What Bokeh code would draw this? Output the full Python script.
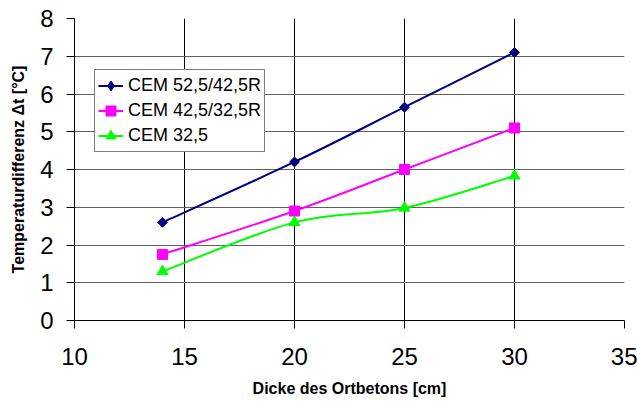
from bokeh.plotting import figure
from bokeh.models import Range1d, FixedTicker, Legend, LegendItem, ColumnDataSource
from bokeh.embed import file_html
from bokeh.resources import INLINE
import math

# ---- data ----
thickness = [14, 20, 25, 30]
cem_52 = [2.6, 4.2, 5.65, 7.1]
cem_42 = [1.75, 2.9, 4.0, 5.1]
cem_32 = [1.3, 2.6, 2.98, 3.83]
series_names = ["CEM 52,5/42,5R", "CEM 42,5/32,5R", "CEM 32,5"]
x_ticks = [10, 15, 20, 25, 30, 35]
y_ticks = [0, 1, 2, 3, 4, 5, 6, 7, 8]
x_title = "Dicke des Ortbetons [cm]"
y_title = "Temperaturdifferenz Δt [°C]"

colors = ["#000080", "#FF00FF", "#00FF00"]
FONT = "Liberation Sans"
NAN = float("nan")

p = figure(width=637, height=407, output_backend="svg", toolbar_location=None,
           x_range=Range1d(10, 35), y_range=Range1d(0, 8),
           min_border_left=74, min_border_right=13, min_border_top=18, min_border_bottom=87)
p.outline_line_color = None
p.background_fill_color = "white"
p.border_fill_color = "white"

p.xaxis.ticker = FixedTicker(ticks=x_ticks)
p.yaxis.ticker = FixedTicker(ticks=y_ticks)
for ax in (p.xaxis, p.yaxis):
    ax.axis_line_color = "black"
    ax.axis_line_width = 1
    ax.major_tick_line_color = "black"
    ax.major_tick_out = 8
    ax.major_tick_in = 0
    ax.minor_tick_line_color = None
    ax.major_label_text_font = FONT
    ax.major_label_text_font_size = "24px"
    ax.major_label_text_color = "black"
    ax.axis_label_text_font = FONT
    ax.axis_label_text_font_style = "bold"
    ax.axis_label_text_font_size = "16px"
    ax.axis_label_text_color = "black"

p.xaxis.major_label_standoff = 19
p.yaxis.major_label_standoff = 13
p.xaxis.axis_label = x_title
p.yaxis.axis_label = y_title
p.xaxis.axis_label_standoff = 12
p.yaxis.axis_label_standoff = 10

p.xgrid.ticker = FixedTicker(ticks=x_ticks)
p.ygrid.ticker = FixedTicker(ticks=y_ticks)
p.xgrid.grid_line_color = "black"
p.xgrid.grid_line_width = 1
p.ygrid.grid_line_color = "#606060"
p.ygrid.grid_line_width = 1


def smooth_segments(xs, ys):
    # Catmull-Rom style bezier control points (Excel "smoothed line" look)
    n = len(xs)
    x0, y0, x1, y1, cx0, cy0, cx1, cy1 = [], [], [], [], [], [], [], []
    for i in range(n - 1):
        xa, ya = xs[i], ys[i]
        xb, yb = xs[i + 1], ys[i + 1]
        xp, yp = (xs[i - 1], ys[i - 1]) if i > 0 else (xa, ya)
        xn, yn = (xs[i + 2], ys[i + 2]) if i + 2 < n else (xb, yb)
        x0.append(xa); y0.append(ya); x1.append(xb); y1.append(yb)
        cx0.append(xa + (xb - xp) / 6.0); cy0.append(ya + (yb - yp) / 6.0)
        cx1.append(xb - (xn - xa) / 6.0); cy1.append(yb - (yn - ya) / 6.0)
    return ColumnDataSource(dict(x0=x0, y0=y0, x1=x1, y1=y1, cx0=cx0, cy0=cy0, cx1=cx1, cy1=cy1))


all_series = [cem_52, cem_42, cem_32]
# (plot marker, size, angle, legend marker, legend size)
markers = [("square", 7, math.pi / 4, "diamond", 10),
           ("square", 10, 0, "square", 9),
           ("triangle", 11, 0, "triangle", 10)]
items = []
for name, ys, col, (mk, sz, ang, lmk, lsz) in zip(series_names, all_series, colors, markers):
    src = smooth_segments(thickness, ys)
    p.bezier(x0="x0", y0="y0", x1="x1", y1="y1", cx0="cx0", cy0="cy0", cx1="cx1", cy1="cy1",
             source=src, line_color=col, line_width=2)
    p.scatter(x=thickness, y=ys, marker=mk, size=sz, angle=ang,
              fill_color=col, line_color=col)
    leg_line = p.line(x=[NAN], y=[NAN], line_color=col, line_width=2)
    leg_mark = p.scatter(x=[NAN], y=[NAN], marker=lmk, size=lsz,
                         fill_color=col, line_color=col)
    items.append(LegendItem(label=name, renderers=[leg_line, leg_mark]))

legend = Legend(items=items, location=(20, 168))
legend.label_text_font = FONT
legend.label_text_font_size = "18px"
legend.label_text_color = "black"
legend.label_height = 25
legend.glyph_height = 25
legend.glyph_width = 25
legend.label_standoff = 5
legend.spacing = 0
legend.padding = 3
legend.margin = 0
legend.border_line_color = "black"
legend.border_line_width = 1
legend.background_fill_color = "white"
legend.background_fill_alpha = 1
p.add_layout(legend, "center")

open("out.html", "w").write(file_html(p, INLINE))
